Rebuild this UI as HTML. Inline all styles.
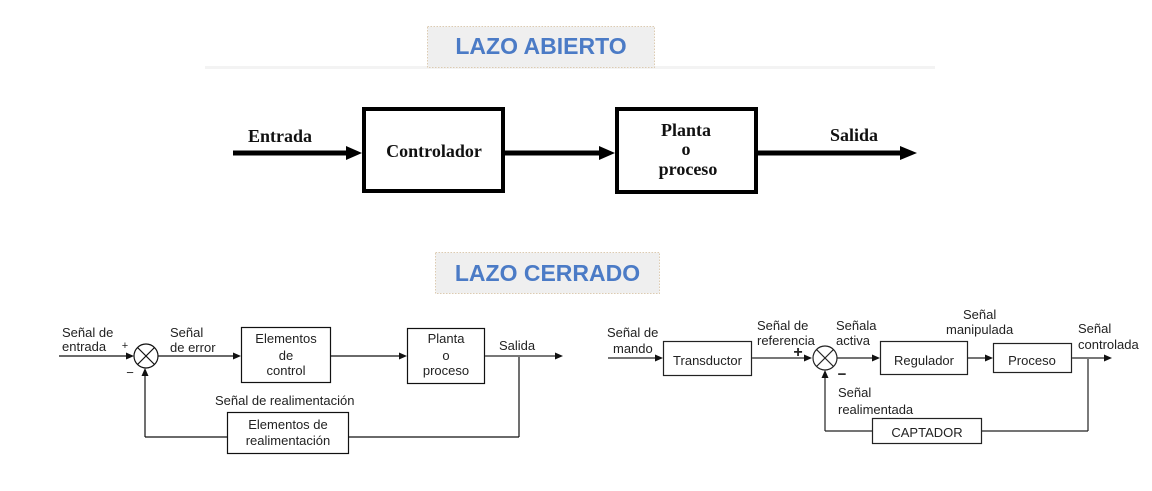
<!DOCTYPE html>
<html>
<head>
<meta charset="utf-8">
<style>
html,body{margin:0;padding:0;background:#fff;}
svg{display:block;}
.ser{font-family:"Liberation Serif",serif;font-weight:bold;font-size:18px;fill:#111;}
.san{font-family:"Liberation Sans",sans-serif;font-size:13px;fill:#222;}
.ttl{font-family:"Liberation Sans",sans-serif;font-weight:bold;font-size:23px;fill:#4b7bc6;}
</style>
</head>
<body>
<svg width="1152" height="491" viewBox="0 0 1152 491" xmlns="http://www.w3.org/2000/svg">
<rect x="0" y="0" width="1152" height="491" fill="#fff"/>

<!-- Title 1 -->
<rect x="205" y="66" width="730" height="3" fill="#f3f3f3"/>
<rect x="427.5" y="26.5" width="227" height="41" fill="#efefef" stroke="#dccbb2" stroke-width="1" stroke-dasharray="1.5,1.5"/>
<text class="ttl" x="541" y="54" text-anchor="middle">LAZO ABIERTO</text>

<!-- Open loop -->
<g fill="#000" stroke="none">
<rect x="233" y="150.5" width="116" height="5"/>
<polygon points="346,146 362,153 346,160"/>
<rect x="505" y="150.5" width="97" height="5"/>
<polygon points="599,146 615,153 599,160"/>
<rect x="758" y="150.5" width="145" height="5"/>
<polygon points="900,146 917,153 900,160"/>
</g>
<rect x="364" y="109" width="139" height="82" fill="none" stroke="#000" stroke-width="4"/>
<rect x="617" y="109" width="139" height="83" fill="none" stroke="#000" stroke-width="4"/>
<text class="ser" x="248" y="142">Entrada</text>
<text class="ser" x="434" y="157" text-anchor="middle">Controlador</text>
<text class="ser" x="686" y="136" text-anchor="middle">Planta</text>
<text class="ser" x="686" y="155" text-anchor="middle">o</text>
<text class="ser" x="688" y="175" text-anchor="middle">proceso</text>
<text class="ser" x="830" y="141">Salida</text>

<!-- Title 2 -->
<rect x="435.5" y="252.5" width="224" height="41" fill="#efefef" stroke="#dccbb2" stroke-width="1" stroke-dasharray="1.5,1.5"/>
<text class="ttl" x="547.5" y="281" text-anchor="middle">LAZO CERRADO</text>

<!-- Closed loop left -->
<g stroke="#111" stroke-width="1.2" fill="none">
<line x1="59" y1="356" x2="128" y2="356"/>
<circle cx="146" cy="356" r="12"/>
<line x1="137.5" y1="347.5" x2="154.5" y2="364.5"/>
<line x1="154.5" y1="347.5" x2="137.5" y2="364.5"/>
<line x1="158" y1="356" x2="234" y2="356"/>
<rect x="241.5" y="327.5" width="89" height="55"/>
<line x1="331" y1="356" x2="400" y2="356"/>
<rect x="407.5" y="328.5" width="77" height="55"/>
<line x1="519" y1="356" x2="519" y2="437"/>
<line x1="519" y1="437" x2="349" y2="437"/>
<rect x="227.5" y="412.5" width="121" height="41"/>
<line x1="227" y1="437" x2="145" y2="437"/>
<line x1="145" y1="437" x2="145" y2="375"/>
</g>
<line x1="485" y1="356" x2="556" y2="356" stroke="#777" stroke-width="2"/>
<g fill="#111">
<polygon points="126,352.5 134,356 126,359.5"/>
<polygon points="233,352.5 241,356 233,359.5"/>
<polygon points="399,352.5 407,356 399,359.5"/>
<polygon points="555,352.5 563,356 555,359.5"/>
<polygon points="141.5,376 145,368 148.5,376"/>
</g>
<text class="san" x="62" y="337">Señal de</text>
<text class="san" x="62" y="351">entrada</text>
<text class="san" x="125" y="349" text-anchor="middle" style="font-size:11px">+</text>
<text class="san" x="130" y="377" text-anchor="middle" style="font-size:13px">−</text>
<text class="san" x="170" y="337">Señal</text>
<text class="san" x="170" y="352">de error</text>
<text class="san" x="286" y="343" text-anchor="middle">Elementos</text>
<text class="san" x="286" y="360" text-anchor="middle">de</text>
<text class="san" x="286" y="375" text-anchor="middle">control</text>
<text class="san" x="446" y="343" text-anchor="middle">Planta</text>
<text class="san" x="446" y="360" text-anchor="middle">o</text>
<text class="san" x="446" y="375" text-anchor="middle">proceso</text>
<text class="san" x="499" y="350">Salida</text>
<text class="san" x="215" y="405">Señal de realimentación</text>
<text class="san" x="288" y="429" text-anchor="middle">Elementos de</text>
<text class="san" x="288" y="445" text-anchor="middle">realimentación</text>

<!-- Closed loop right -->
<g stroke="#222" stroke-width="1.2" fill="none">
<line x1="608" y1="358" x2="656" y2="358"/>
<rect x="663.5" y="341.5" width="88" height="34"/>
<circle cx="825" cy="358" r="12"/>
<line x1="816.5" y1="349.5" x2="833.5" y2="366.5"/>
<line x1="833.5" y1="349.5" x2="816.5" y2="366.5"/>
<line x1="837" y1="358" x2="873" y2="358"/>
<rect x="880.5" y="341.5" width="87" height="33"/>
<line x1="968" y1="358" x2="986" y2="358"/>
<rect x="993.5" y="343.5" width="78" height="29"/>
<line x1="1088" y1="358" x2="1088" y2="431"/>
<line x1="1088" y1="431" x2="982" y2="431"/>
<rect x="872.5" y="418.5" width="109" height="25"/>
<line x1="872" y1="431" x2="825" y2="431"/>
<line x1="825" y1="431" x2="825" y2="377"/>
</g>
<line x1="752" y1="358" x2="805" y2="358" stroke="#777" stroke-width="2"/>
<line x1="1072" y1="358" x2="1105" y2="358" stroke="#777" stroke-width="2"/>
<g fill="#111">
<polygon points="655,354.5 663,358 655,361.5"/>
<polygon points="804,354.5 812,358 804,361.5"/>
<polygon points="872,354.5 880,358 872,361.5"/>
<polygon points="985,354.5 993,358 985,361.5"/>
<polygon points="1104,354.5 1112,358 1104,361.5"/>
<polygon points="821.5,378 825,370 828.5,378"/>
</g>
<text class="san" x="607" y="337">Señal de</text>
<text class="san" x="613" y="353">mando</text>
<text class="san" x="707.5" y="365" text-anchor="middle">Transductor</text>
<text class="san" x="757" y="330">Señal de</text>
<text class="san" x="757" y="345">referencia</text>
<text class="san" x="798" y="357" text-anchor="middle" style="font-size:16px;font-weight:bold">+</text>
<text class="san" x="836" y="330">Señala</text>
<text class="san" x="836" y="345">activa</text>
<text class="san" x="842" y="379" text-anchor="middle" style="font-size:15px;font-weight:bold">−</text>
<text class="san" x="838" y="397">Señal</text>
<text class="san" x="838" y="414">realimentada</text>
<text class="san" x="924" y="365" text-anchor="middle">Regulador</text>
<text class="san" x="963" y="319">Señal</text>
<text class="san" x="946" y="334">manipulada</text>
<text class="san" x="1032" y="365" text-anchor="middle">Proceso</text>
<text class="san" x="1078" y="333">Señal</text>
<text class="san" x="1078" y="349">controlada</text>
<text class="san" x="927" y="437" text-anchor="middle">CAPTADOR</text>
</svg>
</body>
</html>
